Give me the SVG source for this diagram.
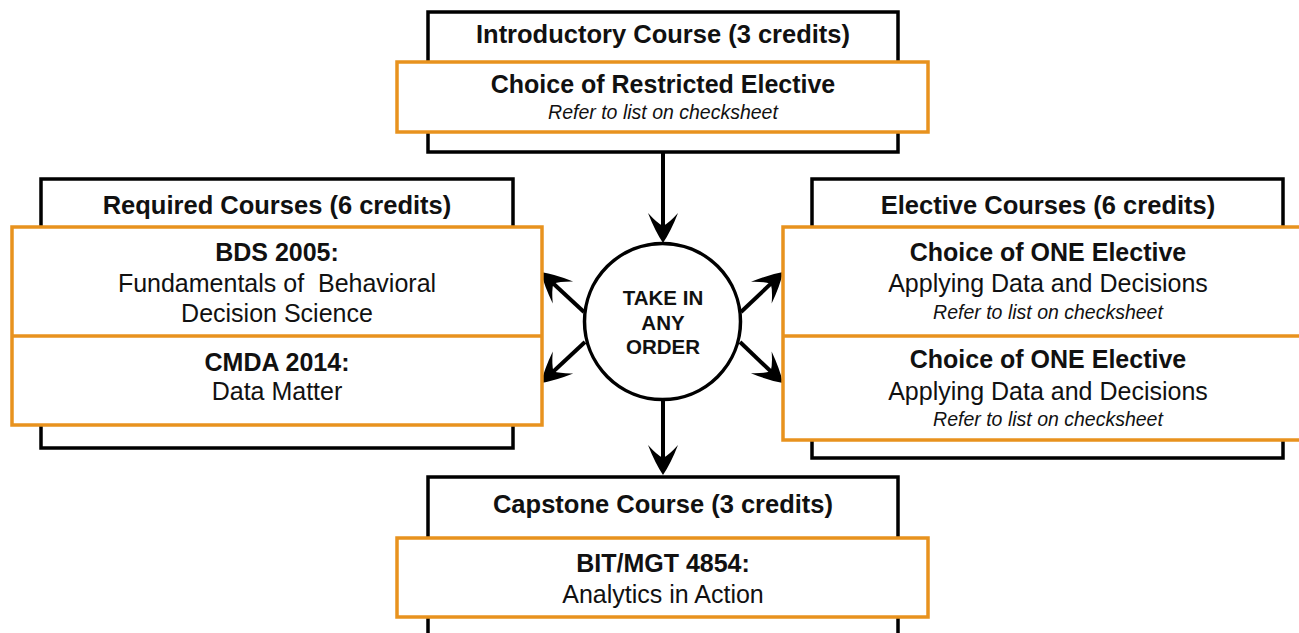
<svg xmlns="http://www.w3.org/2000/svg" width="1299" height="633" viewBox="0 0 1299 633">
  <style>
    .frame { fill: #ffffff; stroke: #000000; stroke-width: 3.5; }
    .course { fill: #ffffff; stroke: #E8921E; stroke-width: 3.5; }
    .divider { stroke: #E8921E; stroke-width: 3.5; }
    text { font-family: "Liberation Sans", Arial, sans-serif; fill: #111111; text-anchor: middle; }
    .title { font-size: 25.5px; font-weight: bold; }
    .name { font-size: 25px; font-weight: bold; }
    .desc { font-size: 25px; }
    .note { font-size: 19.5px; font-style: italic; }
    .hub { font-size: 20.5px; font-weight: bold; }
    .conn { stroke: #000000; stroke-width: 4; fill: none; marker-end: url(#ah); }
  </style>
  <defs>
    <marker id="ah" viewBox="-32 -17 34 34" refX="-8" refY="0" markerWidth="34" markerHeight="34" markerUnits="userSpaceOnUse" orient="auto">
      <path d="M0,0 Q-12,-8 -30,-15 Q-20,-6 -17,0 Q-20,6 -30,15 Q-12,8 0,0 Z" fill="#000000"/>
    </marker>
  </defs>
  <rect width="1299" height="633" fill="#ffffff"/>

  <g id="connectors">
    <line class="conn" x1="663" y1="152" x2="663" y2="235"/>
    <line class="conn" x1="663" y1="400" x2="663" y2="467"/>
    <line class="conn" x1="584" y1="312" x2="546.8" y2="277.5"/>
    <line class="conn" x1="585" y1="342" x2="546.9" y2="377.5"/>
    <line class="conn" x1="741" y1="312" x2="777.3" y2="277.6"/>
    <line class="conn" x1="740" y1="342" x2="777.2" y2="377.5"/>
  </g>

  <g id="introductory">
    <rect class="frame" x="428" y="12" width="470" height="140"/>
    <text class="title" x="663" y="43">Introductory Course (3 credits)</text>
    <rect class="course" x="397" y="62" width="531" height="70"/>
    <text class="name" x="663" y="93">Choice of Restricted Elective</text>
    <text class="note" x="663" y="119">Refer to list on checksheet</text>
  </g>

  <g id="required">
    <rect class="frame" x="41" y="179" width="472" height="269"/>
    <text class="title" x="277" y="214">Required Courses (6 credits)</text>
    <rect class="course" x="12" y="227" width="530" height="198"/>
    <line class="divider" x1="12" y1="336" x2="542" y2="336"/>
    <text class="name" x="277" y="261">BDS 2005:</text>
    <text class="desc" x="277" y="292" xml:space="preserve">Fundamentals of  Behavioral</text>
    <text class="desc" x="277" y="322">Decision Science</text>
    <text class="name" x="277" y="371">CMDA 2014:</text>
    <text class="desc" x="277" y="400">Data Matter</text>
  </g>

  <g id="hub">
    <circle cx="662.5" cy="321.5" r="78" fill="#ffffff" stroke="#000000" stroke-width="3.5"/>
    <text class="hub" x="663" y="305">TAKE IN</text>
    <text class="hub" x="663" y="330">ANY</text>
    <text class="hub" x="663" y="354">ORDER</text>
  </g>

  <g id="elective">
    <rect class="frame" x="812" y="179" width="471" height="279"/>
    <text class="title" x="1048" y="214">Elective Courses (6 credits)</text>
    <rect class="course" x="783" y="227" width="530" height="213"/>
    <line class="divider" x1="783" y1="336" x2="1313" y2="336"/>
    <text class="name" x="1048" y="261">Choice of ONE Elective</text>
    <text class="desc" x="1048" y="292">Applying Data and Decisions</text>
    <text class="note" x="1048" y="319">Refer to list on checksheet</text>
    <text class="name" x="1048" y="368">Choice of ONE Elective</text>
    <text class="desc" x="1048" y="400">Applying Data and Decisions</text>
    <text class="note" x="1048" y="426">Refer to list on checksheet</text>
  </g>

  <g id="capstone">
    <rect class="frame" x="428" y="477" width="470" height="180"/>
    <text class="title" x="663" y="513">Capstone Course (3 credits)</text>
    <rect class="course" x="397" y="538" width="531" height="79"/>
    <text class="name" x="663" y="572">BIT/MGT 4854:</text>
    <text class="desc" x="663" y="603">Analytics in Action</text>
  </g>
</svg>
